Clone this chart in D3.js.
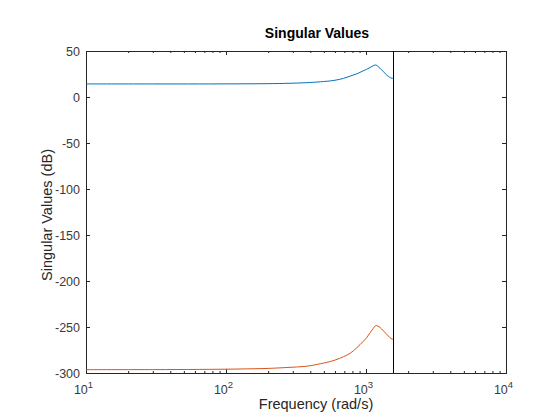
<!DOCTYPE html>
<html>
<head>
<meta charset="utf-8">
<script src="https://cdn.jsdelivr.net/npm/d3@7"></script>
<style>
  body { margin: 0; background: #fff; }
  svg { display: block; font-family: "Liberation Sans", Arial, sans-serif; }
</style>
</head>
<body>
<div id="chart"></div>
<script>
// frequency grid (rad/s) and singular values (dB)
const freq = [10, 30, 65, 120, 200, 282, 355, 400, 450, 550, 610, 690, 770, 860, 950,
              1010, 1070, 1120, 1175, 1259, 1330, 1405, 1480, 1530, 1571];
const sv1 = [14.2, 14.2, 14.2, 14.3, 14.5, 14.9, 15.4, 15.8, 16.3, 17.4, 18.4, 20.2, 22.7,
             25.2, 28.3, 30.1, 32.1, 33.8, 34.8, 31.2, 27.5, 23.9, 21.3, 20.4, 20.3];
const sv2 = [-296.4, -296.3, -296.1, -295.7, -295.0, -293.9, -293.0, -292.1, -290.6, -287.7,
             -285.6, -282.3, -278.6, -272.5, -266.0, -261.6, -256.2, -252.0, -248.5, -250.5,
             -254.2, -257.8, -261.5, -263.0, -263.4];
const nyquist = 1571;
const xTicks = [10, 100, 1000, 10000];
const yTicks = [-300, -250, -200, -150, -100, -50, 0, 50];

const W = 560, H = 420;
const margin = {top: 51, right: 54, bottom: 47, left: 86},
      width = W - margin.left - margin.right,
      height = H - margin.top - margin.bottom;
const axisColor = "#262626";

const root = d3.select("#chart").append("svg")
  .attr("width", W)
  .attr("height", H);

const svg = root.append("g")
  .attr("transform", `translate(${margin.left},${margin.top})`);

const x = d3.scaleLog().domain([10, 10000]).range([0, width]);
const y = d3.scaleLinear().domain([-300, 50]).range([height, 0]);

// minor ticks on the log axis
const minor = [];
for (let e = 1; e < 4; e++) {
  for (let m = 2; m <= 9; m++) minor.push(m * Math.pow(10, e));
}

function styleAxis(g) {
  g.select(".domain").remove();
  g.selectAll("line").attr("stroke", axisColor);
  g.selectAll("text").attr("fill", "#3a3a3a").style("font-size", "12.5px");
}

// bottom
svg.append("g")
   .attr("transform", `translate(0,${height})`)
   .call(d3.axisBottom(x).tickValues(minor).tickSize(-2).tickFormat(""))
   .call(styleAxis);
const bx = svg.append("g")
   .attr("transform", `translate(0,${height})`)
   .call(d3.axisBottom(x).tickValues(xTicks).tickSize(-4))
   .call(styleAxis);
bx.selectAll(".tick text")
  .attr("x", -3).attr("y", 21).attr("dy", 0)
  .each(function(d) {
    const t = d3.select(this);
    t.text("");
    t.append("tspan").text("10");
    t.append("tspan").attr("dy", "-6").style("font-size", "9.5px").text(Math.round(Math.log10(d)));
  });

// top (mirror)
svg.append("g")
   .call(d3.axisTop(x).tickValues(minor).tickSize(-2).tickFormat(""))
   .call(styleAxis);
svg.append("g")
   .call(d3.axisTop(x).tickValues(xTicks).tickSize(-4).tickFormat(""))
   .call(styleAxis);

// left
svg.append("g")
   .call(d3.axisLeft(y).tickValues(yTicks).tickSize(-4).tickPadding(6)
           .tickFormat(d => String(d)))
   .call(styleAxis);

// right (mirror)
svg.append("g")
   .attr("transform", `translate(${width},0)`)
   .call(d3.axisRight(y).tickValues(yTicks).tickSize(-4).tickFormat(""))
   .call(styleAxis);

// box
svg.append("rect")
   .attr("x", 0.5).attr("y", 0.5)
   .attr("width", width).attr("height", height)
   .attr("fill", "none")
   .attr("stroke", axisColor)
   .attr("stroke-width", 1);

const line = d3.line()
  .x((d, i) => x(freq[i]))
  .y(d => y(d))
  .curve(d3.curveCatmullRom);

svg.append("path")
   .datum(sv1)
   .attr("fill", "none")
   .attr("stroke", "#0072BD")
   .attr("stroke-width", 1)
   .attr("d", line);

svg.append("path")
   .datum(sv2)
   .attr("fill", "none")
   .attr("stroke", "#D95319")
   .attr("stroke-width", 1)
   .attr("d", line);

// Nyquist frequency marker
svg.append("line")
   .attr("x1", Math.round(x(nyquist)) + 0.5)
   .attr("x2", Math.round(x(nyquist)) + 0.5)
   .attr("y1", 0)
   .attr("y2", height)
   .attr("stroke", "#000")
   .attr("stroke-width", 1);

// title and labels
root.append("text")
    .attr("x", 317)
    .attr("y", 38)
    .attr("text-anchor", "middle")
    .style("font-size", "14px")
    .style("font-weight", "bold")
    .attr("fill", "#000")
    .text("Singular Values");

root.append("text")
    .attr("x", 316)
    .attr("y", 409)
    .attr("text-anchor", "middle")
    .style("font-size", "14.5px")
    .attr("fill", axisColor)
    .text("Frequency (rad/s)");

root.append("text")
    .attr("transform", "translate(52,215) rotate(-90)")
    .attr("text-anchor", "middle")
    .style("font-size", "14.5px")
    .attr("fill", axisColor)
    .text("Singular Values (dB)");
</script>
</body>
</html>
